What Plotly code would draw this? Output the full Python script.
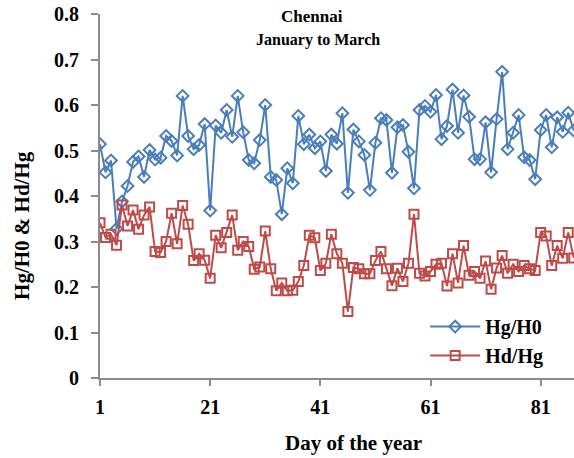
import plotly.graph_objects as go

days = list(range(1, 88))

hg_h0 = [0.514, 0.452, 0.478, 0.328, 0.388, 0.422, 0.475, 0.487, 0.442, 0.501,
         0.480, 0.484, 0.532, 0.521, 0.489, 0.620, 0.532, 0.503, 0.512, 0.558,
         0.368, 0.555, 0.539, 0.589, 0.530, 0.620, 0.540, 0.479, 0.472, 0.523,
         0.600, 0.442, 0.435, 0.360, 0.461, 0.428, 0.576, 0.514, 0.535, 0.505,
         0.520, 0.455, 0.535, 0.515, 0.582, 0.407, 0.546, 0.520, 0.490, 0.413,
         0.517, 0.571, 0.567, 0.451, 0.551, 0.556, 0.497, 0.417, 0.589, 0.598,
         0.585, 0.622, 0.525, 0.554, 0.634, 0.539, 0.621, 0.574, 0.481, 0.481,
         0.562, 0.452, 0.569, 0.673, 0.503, 0.539, 0.578, 0.485, 0.479, 0.437,
         0.545, 0.578, 0.507, 0.573, 0.541, 0.583, 0.544]

hd_hg = [0.341, 0.309, 0.316, 0.292, 0.380, 0.334, 0.369, 0.327, 0.358, 0.376,
         0.278, 0.276, 0.300, 0.362, 0.295, 0.379, 0.338, 0.258, 0.273, 0.259,
         0.219, 0.314, 0.286, 0.320, 0.358, 0.281, 0.300, 0.289, 0.239, 0.244,
         0.323, 0.240, 0.192, 0.209, 0.192, 0.193, 0.212, 0.247, 0.314, 0.308,
         0.236, 0.252, 0.316, 0.273, 0.252, 0.146, 0.243, 0.240, 0.229, 0.229,
         0.258, 0.278, 0.240, 0.203, 0.241, 0.212, 0.252, 0.360, 0.230, 0.224,
         0.234, 0.250, 0.252, 0.202, 0.273, 0.209, 0.291, 0.226, 0.234, 0.219,
         0.257, 0.195, 0.242, 0.269, 0.230, 0.250, 0.234, 0.247, 0.240, 0.236,
         0.320, 0.312, 0.247, 0.291, 0.263, 0.320, 0.264]

x_ticks = [1, 21, 41, 61, 81]
y_ticks = [0, 0.1, 0.2, 0.3, 0.4, 0.5, 0.6, 0.7, 0.8]
y_tick_labels = ["0", "0.1", "0.2", "0.3", "0.4", "0.5", "0.6", "0.7", "0.8"]

BLUE = "#4A7EBB"
RED = "#BE4B48"
FONT = "Liberation Serif"

fig = go.Figure()
fig.add_trace(go.Scatter(
    x=days, y=hg_h0, mode="lines+markers", name="<b>Hg/H0</b>",
    line=dict(color=BLUE, width=2),
    marker=dict(symbol="diamond-open", size=9, color=BLUE, line=dict(width=2, color=BLUE)),
))
fig.add_trace(go.Scatter(
    x=days, y=hd_hg, mode="lines+markers", name="<b>Hd/Hg</b>",
    line=dict(color=RED, width=2),
    marker=dict(symbol="square-open", size=9, color=RED, line=dict(width=2, color=RED)),
))

axis_font = dict(family=FONT, size=20, color="black")

def note(text, x, y, size, angle=0):
    return dict(text=text, x=x, y=y, xref="paper", yref="paper", showarrow=False,
                xanchor="center", yanchor="middle", textangle=angle,
                font=dict(family=FONT, size=size, color="black"))

fig.update_layout(
    width=574, height=458,
    margin=dict(l=100, r=0, t=14, b=80),
    paper_bgcolor="white", plot_bgcolor="white",
    showlegend=True,
    legend=dict(x=0.686, y=0.195, xanchor="left", yanchor="top",
                font=dict(family=FONT, size=20, color="black"),
                bgcolor="rgba(0,0,0,0)", tracegroupgap=0, itemwidth=50),
    xaxis=dict(range=[1, 87.05], tickvals=x_ticks, ticktext=[f"<b>{t}</b>" for t in x_ticks],
               showgrid=False, zeroline=False, showline=True, linecolor="#8c8c8c", linewidth=2,
               ticks="outside", ticklen=6, tickcolor="#8c8c8c", tickwidth=1.5,
               tickfont=axis_font, ticklabelstandoff=4),
    yaxis=dict(range=[0, 0.8], tickvals=y_ticks, ticktext=[f"<b>{t}</b>" for t in y_tick_labels],
               showgrid=False, zeroline=False, showline=True, linecolor="#8c8c8c", linewidth=2,
               ticks="outside", ticklen=7, tickcolor="#8c8c8c", tickwidth=1.5,
               tickfont=axis_font, ticklabelstandoff=8),
    annotations=[
        note("<b>Chennai</b>", 0.447, 0.992, 17),
        note("<b>January to March</b>", 0.46, 0.929, 16),
        note("<b>Day of the year</b>", 0.534, -0.179, 21),
        note("<b>Hg/H0 &amp; Hd/Hg</b>", -0.165, 0.42, 21, -90),
    ],
)

fig.write_html("out.html", config={"displayModeBar": False},
               post_script="document.body.style.margin='0';")
